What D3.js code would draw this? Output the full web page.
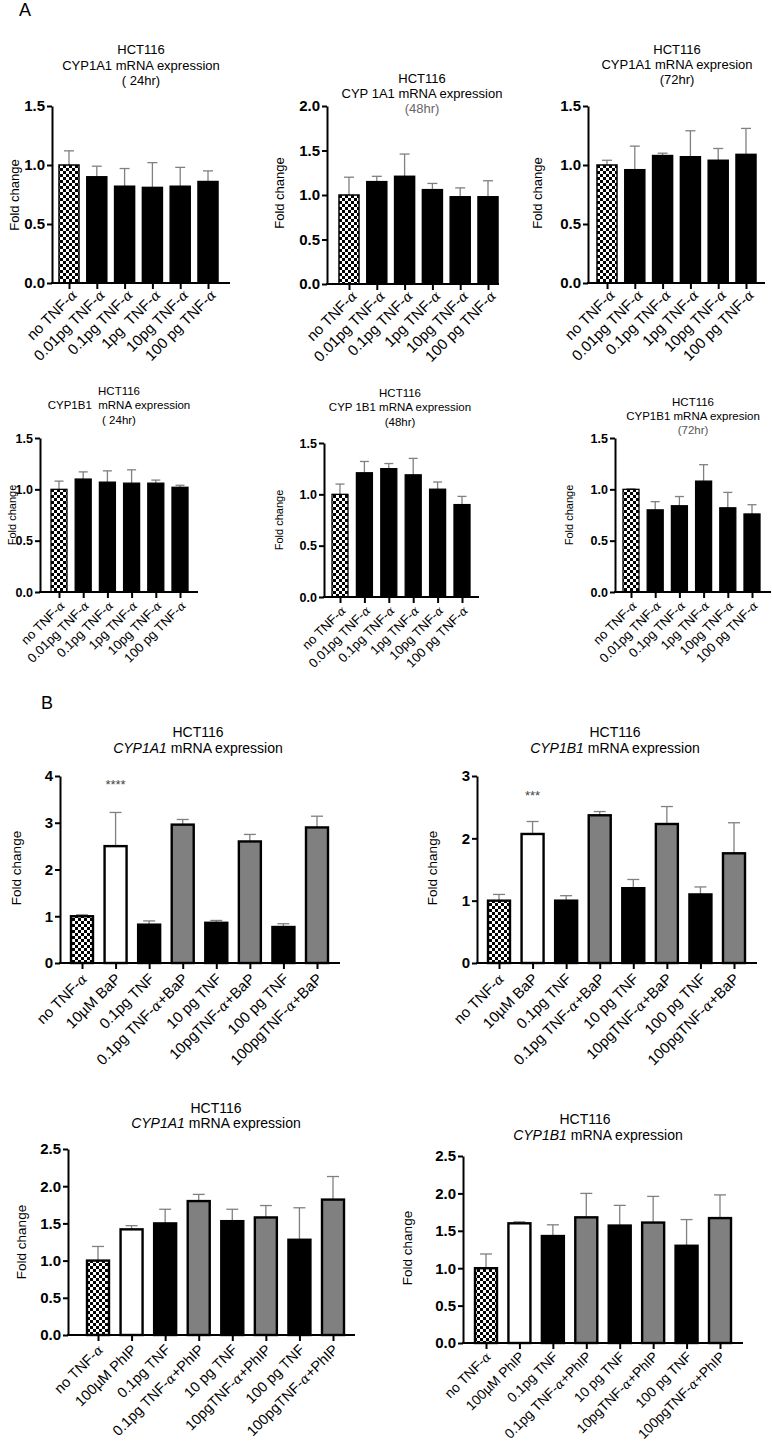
<!DOCTYPE html>
<html><head><meta charset="utf-8">
<script src="https://cdn.jsdelivr.net/npm/d3@7"></script>
<style>
body{margin:0;background:#fff}
svg text{font-family:"Liberation Sans",Arial,Helvetica,sans-serif;white-space:pre}
</style>
</head><body>
<svg id="chart" width="772" height="1447"></svg>
<script>
// ---------- DATA ----------
const catsA1 = ["no TNF-α","0.01pg TNF-α","0.1pg TNF-α","1pg  TNF-α","10pg TNF-α","100 pg TNF-α"];
const catsA  = ["no TNF-α","0.01pg TNF-α","0.1pg TNF-α","1pg TNF-α","10pg TNF-α","100 pg TNF-α"];
const catsBaP  = ["no TNF-α","10µM BaP","0.1pg TNF","0.1pg TNF-α+BaP","10 pg TNF","10pgTNF-α+BaP","100 pg TNF","100pgTNF-α+BaP"];
const catsPhIP = ["no TNF-α","100µM PhIP","0.1pg TNF","0.1pg TNF-α+PhIP","10 pg TNF","10pgTNF-α+PhIP","100 pg TNF","100pgTNF-α+PhIP"];

const fillA = ["check","black","black","black","black","black"];
const fillB = ["check","white","black","grey","black","grey","black","grey"];

// CYP1A1 24h / 48h / 72h
const a1Mean = [1.00, 0.90, 0.82, 0.81, 0.82, 0.86];
const a1Err  = [0.12, 0.09, 0.15, 0.21, 0.16, 0.09];
const a2Mean = [1.00, 1.15, 1.21, 1.06, 0.98, 0.98];
const a2Err  = [0.20, 0.06, 0.25, 0.07, 0.10, 0.18];
const a3Mean = [1.00, 0.96, 1.08, 1.07, 1.04, 1.09];
const a3Err  = [0.04, 0.20, 0.02, 0.22, 0.10, 0.22];
// CYP1B1 24h / 48h / 72h
const a4Mean = [1.00, 1.10, 1.07, 1.06, 1.06, 1.02];
const a4Err  = [0.08, 0.07, 0.11, 0.13, 0.03, 0.02];
const a5Mean = [1.00, 1.21, 1.25, 1.19, 1.05, 0.90];
const a5Err  = [0.10, 0.11, 0.05, 0.16, 0.07, 0.08];
const a6Mean = [1.00, 0.80, 0.84, 1.08, 0.82, 0.76];
const a6Err  = [0.005, 0.08, 0.09, 0.16, 0.15, 0.09];
// BaP
const b1Mean = [1.00, 2.50, 0.82, 2.96, 0.86, 2.60, 0.77, 2.90];
const b1Err  = [0.03, 0.72, 0.08, 0.11, 0.05, 0.15, 0.07, 0.24];
const b2Mean = [1.00, 2.07, 1.00, 2.37, 1.20, 2.23, 1.10, 1.76];
const b2Err  = [0.10, 0.20, 0.08, 0.06, 0.14, 0.28, 0.12, 0.49];
// PhIP
const b3Mean = [1.00, 1.42, 1.50, 1.80, 1.53, 1.58, 1.28, 1.82];
const b3Err  = [0.19, 0.05, 0.19, 0.09, 0.16, 0.16, 0.43, 0.31];
const b4Mean = [1.00, 1.60, 1.43, 1.68, 1.57, 1.61, 1.30, 1.67];
const b4Err  = [0.19, 0.02, 0.15, 0.32, 0.27, 0.35, 0.35, 0.31];

const ticks15 = [0, 0.5, 1.0, 1.5];
const ticks20 = [0, 0.5, 1.0, 1.5, 2.0];
const ticks25 = [0, 0.5, 1.0, 1.5, 2.0, 2.5];
const ticks4 = [0, 1, 2, 3, 4];
const ticks3 = [0, 1, 2, 3];

// ---------- LAYOUT ----------
const svg = d3.select("#chart");
const defs = svg.append("defs");
const pat = defs.append("pattern").attr("id","check").attr("width",6).attr("height",6)
  .attr("patternUnits","userSpaceOnUse");
pat.append("rect").attr("width",6).attr("height",6).attr("fill","#fff");
pat.append("rect").attr("width",3).attr("height",3).attr("fill","#000");
pat.append("rect").attr("x",3).attr("y",3).attr("width",3).attr("height",3).attr("fill","#000");

const fillCol = {check:"url(#check)", black:"#000", white:"#fff", grey:"#808080"};

const panels = [
 {cats:catsA1, mean:a1Mean, err:a1Err, fill:fillA, ticks:ticks15, fmt:".1f",
  left:52,right:230,y0:283,yTop:106,c0:69,cN:208,bw:20,sw:1.5,cap:10,tickFs:15,xFs:15,xOff:[5,9],
  title:[[{t:"HCT116"}],[{t:"CYP1A1 mRNA expression"}],[{t:"( 24hr)"}]], tx:[141,141,141], ty:[54,70,85], tFs:13,
  fold:[14,195], foldFs:13},
 {cats:catsA, mean:a2Mean, err:a2Err, fill:fillA, ticks:ticks20, fmt:".1f",
  left:327,right:499,y0:284,yTop:106,c0:349,cN:488,bw:20,sw:1.5,cap:10,tickFs:15,xFs:15,xOff:[5,9],
  title:[[{t:"HCT116"}],[{t:"CYP 1A1 mRNA expression"}],[{t:"(48hr)",c:"#666"}]], tx:[422,422,422], ty:[83,98,113], tFs:13,
  fold:[279,193], foldFs:13},
 {cats:catsA, mean:a3Mean, err:a3Err, fill:fillA, ticks:ticks15, fmt:".1f",
  left:588,right:765,y0:283,yTop:106,c0:607,cN:746,bw:20,sw:1.5,cap:10,tickFs:15,xFs:15,xOff:[5,9],
  title:[[{t:"HCT116"}],[{t:"CYP1A1 mRNA expresion"}],[{t:"(72hr)"}]], tx:[677,677,677], ty:[54,69,84], tFs:13,
  fold:[537,193], foldFs:13},
 {cats:catsA, mean:a4Mean, err:a4Err, fill:fillA, ticks:ticks15, fmt:".1f",
  left:40,right:198,y0:592,yTop:438,c0:59,cN:180,bw:16,sw:1.3,cap:9,tickFs:12.5,xFs:13,xOff:[3,11],
  title:[[{t:"HCT116"}],[{t:"CYP1B1  mRNA expression"}],[{t:"( 24hr)"}]], tx:[119,119,119], ty:[395,409,424], tFs:11.5,
  fold:[12,515], foldFs:11},
 {cats:catsA, mean:a5Mean, err:a5Err, fill:fillA, ticks:ticks15, fmt:".1f",
  left:324,right:479,y0:597,yTop:443,c0:340,cN:462,bw:16,sw:1.3,cap:9,tickFs:12.5,xFs:13,xOff:[3,11],
  title:[[{t:"HCT116"}],[{t:"CYP 1B1 mRNA expression"}],[{t:"(48hr)"}]], tx:[400,400,400], ty:[397,411,426], tFs:11.5,
  fold:[279,520], foldFs:11},
 {cats:catsA, mean:a6Mean, err:a6Err, fill:fillA, ticks:ticks15, fmt:".1f",
  left:615,right:771,y0:592,yTop:438,c0:631,cN:752,bw:16,sw:1.3,cap:9,tickFs:12.5,xFs:13,xOff:[3,11],
  title:[[{t:"HCT116"}],[{t:"CYP1B1 mRNA expresion"}],[{t:"(72hr)",c:"#555"}]], tx:[693,693,693], ty:[406,420,434], tFs:11.5,
  fold:[569,515], foldFs:11},
 {cats:catsBaP, mean:b1Mean, err:b1Err, fill:fillB, ticks:ticks4, fmt:"d",
  left:60,right:340,y0:963,yTop:776,c0:82,cN:317,bw:22,sw:2.4,cap:12,tickFs:15,xFs:15,xOff:[2,13],
  title:[[{t:"HCT116"}],[{t:"CYP1A1",it:true},{t:" mRNA expression"}]], tx:[198,198], ty:[737,753], tFs:14,
  fold:[16,868], foldFs:13.5, sig:{i:1, t:"****", y:789}},
 {cats:catsBaP, mean:b2Mean, err:b2Err, fill:fillB, ticks:ticks3, fmt:"d",
  left:477,right:757,y0:963,yTop:776,c0:499,cN:734,bw:22,sw:2.4,cap:12,tickFs:15,xFs:15,xOff:[2,13],
  title:[[{t:"HCT116"}],[{t:"CYP1B1",it:true},{t:" mRNA expression"}]], tx:[615,615], ty:[737,753], tFs:14,
  fold:[432,868], foldFs:13.5, sig:{i:1, t:"***", y:800}},
 {cats:catsPhIP, mean:b3Mean, err:b3Err, fill:fillB, ticks:ticks25, fmt:".1f",
  left:68,right:355,y0:1335,yTop:1149,c0:98,cN:333,bw:22,sw:2.4,cap:12,tickFs:15,xFs:14.5,xOff:[2,12],
  title:[[{t:"HCT116"}],[{t:"CYP1A1",it:true},{t:" mRNA expression"}]], tx:[216,216], ty:[1113,1128], tFs:14,
  fold:[21,1242], foldFs:13.5},
 {cats:catsPhIP, mean:b4Mean, err:b4Err, fill:fillB, ticks:ticks25, fmt:".1f",
  left:463,right:743,y0:1343,yTop:1156,c0:486,cN:720,bw:22,sw:2.4,cap:12,tickFs:15,xFs:13.8,xOff:[2,11],
  title:[[{t:"HCT116"}],[{t:"CYP1B1",it:true},{t:" mRNA expression"}]], tx:[585,598], ty:[1124,1140], tFs:14,
  fold:[407,1248], foldFs:13.5}
];

// panel letters
svg.append("text").attr("x",19).attr("y",16).attr("font-size",18).text("A");
svg.append("text").attr("x",41).attr("y",709).attr("font-size",18).text("B");

function labelWithAlpha(t, str){
  t.text(null);
  const parts = str.split("α");
  parts.forEach((s,i)=>{
    if (s) t.append("tspan").text(s);
    if (i < parts.length-1) t.append("tspan")
      .attr("font-family","'DejaVu Serif',serif").attr("font-style","italic").attr("font-size","0.92em").text("α");
  });
}

panels.forEach(p => {
  const g = svg.append("g");
  const y = d3.scaleLinear().domain([0, d3.max(p.ticks)]).range([p.y0, p.yTop]);
  const x = d3.scalePoint().domain(p.cats).range([p.c0, p.cN]);
  const rows = p.cats.map((c,i)=>({c, v:p.mean[i], e:p.err[i], f:p.fill[i]}));

  // error bars (upper)
  const eb = g.append("g").attr("stroke","#808080").attr("stroke-width",1.3).attr("fill","none");
  eb.selectAll("line.v").data(rows).join("line")
    .attr("x1",d=>x(d.c)).attr("x2",d=>x(d.c)).attr("y1",d=>y(d.v)).attr("y2",d=>y(d.v+d.e));
  eb.selectAll("line.c").data(rows).join("line")
    .attr("x1",d=>x(d.c)-p.cap/2).attr("x2",d=>x(d.c)+p.cap/2).attr("y1",d=>y(d.v+d.e)).attr("y2",d=>y(d.v+d.e));

  // bars
  g.append("g").selectAll("rect").data(rows).join("rect")
    .attr("x",d=>x(d.c)-p.bw/2).attr("width",p.bw)
    .attr("y",d=>y(d.v)).attr("height",d=>p.y0-y(d.v))
    .attr("fill",d=>fillCol[d.f]).attr("stroke","#000").attr("stroke-width",p.sw);

  // y axis
  const ya = g.append("g").attr("transform",`translate(${p.left},0)`)
    .call(d3.axisLeft(y).tickValues(p.ticks).tickFormat(d3.format(p.fmt)).tickSize(5).tickSizeOuter(0).tickPadding(2));
  ya.attr("font-family",null).attr("font-size",null);
  ya.select(".domain").attr("stroke-width",2);
  ya.selectAll(".tick line").attr("stroke-width",2);
  ya.selectAll(".tick text").attr("font-size",p.tickFs).attr("font-weight","bold").attr("fill","#000");

  // x axis
  const xa = g.append("g").attr("transform",`translate(0,${p.y0})`)
    .call(d3.axisBottom(x).tickSize(6).tickSizeOuter(0));
  xa.attr("font-family",null).attr("font-size",null);
  xa.select(".domain").remove();
  xa.append("line").attr("x1",p.left-1).attr("x2",p.right).attr("stroke","#000").attr("stroke-width",2);
  xa.selectAll(".tick line").attr("stroke-width",2);
  xa.selectAll(".tick text").each(function(d){ labelWithAlpha(d3.select(this), d); })
    .attr("text-anchor","end").attr("x",0).attr("y",0).attr("dy","0.35em")
    .attr("transform",`translate(${p.xOff[0]},${p.xOff[1]}) rotate(-45)`)
    .attr("font-size",p.xFs).attr("fill","#000");

  // y label
  g.append("text").attr("transform",`translate(${p.fold[0]},${p.fold[1]}) rotate(-90)`)
    .attr("text-anchor","middle").attr("font-size",p.foldFs).attr("dy","0.35em").text("Fold change");

  // title
  p.title.forEach((line,i)=>{
    const t = g.append("text").attr("x",p.tx[i]).attr("y",p.ty[i]).attr("text-anchor","middle").attr("font-size",p.tFs);
    line.forEach(seg=>{
      const s = t.append("tspan").text(seg.t);
      if (seg.it) s.attr("font-style","italic");
      if (seg.c) s.attr("fill",seg.c);
    });
  });

  // significance
  if (p.sig) {
    g.append("text").attr("x",x(p.cats[p.sig.i])).attr("y",p.sig.y).attr("text-anchor","middle")
      .attr("font-size",13).attr("fill","#444").text(p.sig.t);
  }
});
</script>
</body></html>
